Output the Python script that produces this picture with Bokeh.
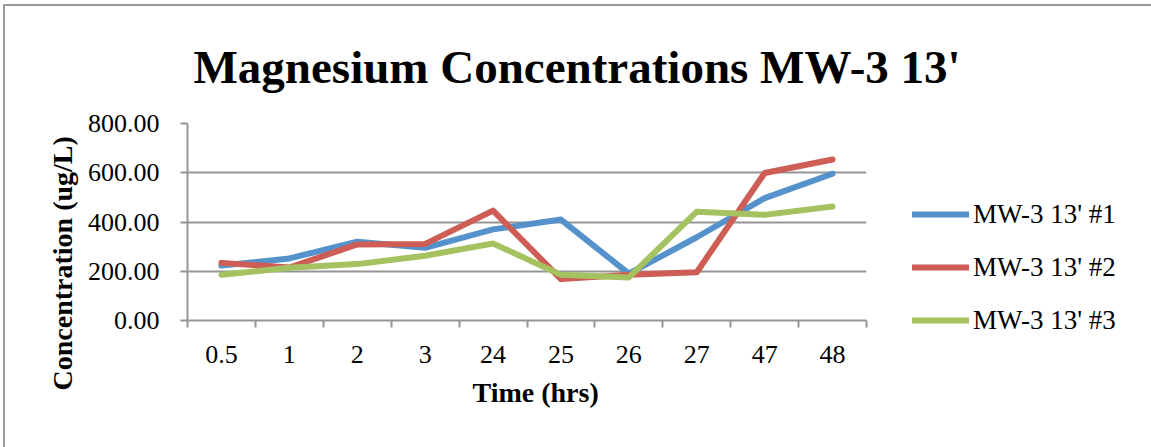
from bokeh.plotting import figure
from bokeh.models import (Range1d, FixedTicker, Legend, LegendItem, Title,
                          InlineStyleSheet)
from bokeh.embed import file_html
from bokeh.resources import INLINE

# Sampling times (hrs) and magnesium concentrations (ug/L)
times = ["0.5", "1", "2", "3", "24", "25", "26", "27", "47", "48"]
well_1 = [223, 252, 320, 295, 370, 410, 190, 338, 497, 596]
well_2 = [234, 215, 309, 311, 446, 168, 186, 196, 599, 654]
well_3 = [186, 214, 229, 263, 313, 186, 175, 442, 429, 463]
series_names = ["MW-3 13' #1", "MW-3 13' #2", "MW-3 13' #3"]
series_colors = ["#5592CB", "#CD5D55", "#A4C260"]
y_ticks = [0, 200, 400, 600, 800]

FONT = "Liberation Serif"
GRAY = "#959595"

# categories sit at the centre of equal slots along the x axis
x_pos = [i + 0.5 for i in range(len(times))]

p = figure(width=1151, height=447, frame_width=679, frame_height=197,
           x_range=Range1d(0, len(times)), y_range=Range1d(0, 800),
           output_backend="svg", toolbar_location=None,
           min_border_left=187, min_border_right=285,
           min_border_top=123, min_border_bottom=127)
p.outline_line_color = None
p.background_fill_color = "white"
p.border_fill_color = "white"

# thin chart-area border on the top and left edges
p.stylesheets = [InlineStyleSheet(css="""
:host { position: relative; }
:host::after {
  content: ""; position: absolute; left: 3px; top: 4px; right: 0; bottom: 0;
  border-left: 2px solid #9a9a9a; border-top: 2px solid #9a9a9a;
  pointer-events: none;
}
""")]

# chart title
p.title.text = "Magnesium Concentrations MW-3 13'"
p.title.text_font = FONT
p.title.text_font_size = "47px"
p.title.text_font_style = "bold"
p.title.text_color = "black"
p.title.align = "left"
p.title.offset = 6
p.title.standoff = 61

# x axis: labels at slot centres, tick marks on slot boundaries
p.xaxis.ticker = FixedTicker(ticks=x_pos, minor_ticks=list(range(len(times) + 1)))
p.xaxis.major_label_overrides = {x: t for x, t in zip(x_pos, times)}
p.xaxis.major_tick_line_color = None
p.xaxis.minor_tick_out = 7
p.xaxis.minor_tick_in = 0
p.xaxis.minor_tick_line_color = GRAY
p.xaxis.minor_tick_line_width = 2
p.xaxis.axis_line_color = GRAY
p.xaxis.axis_line_width = 2
p.xaxis.major_label_text_font = FONT
p.xaxis.major_label_text_font_size = "26px"
p.xaxis.major_label_text_color = "black"
p.xaxis.major_label_standoff = 18

# y axis
p.yaxis.ticker = FixedTicker(ticks=y_ticks, minor_ticks=[])
p.yaxis.major_label_overrides = {v: f"{v:.2f}" for v in y_ticks}
p.yaxis.major_tick_out = 7
p.yaxis.major_tick_in = 0
p.yaxis.major_tick_line_color = GRAY
p.yaxis.major_tick_line_width = 2
p.yaxis.axis_line_color = GRAY
p.yaxis.axis_line_width = 2
p.yaxis.major_label_text_font = FONT
p.yaxis.major_label_text_font_size = "26px"
p.yaxis.major_label_text_color = "black"
p.yaxis.major_label_standoff = 21

p.xgrid.grid_line_color = None
p.ygrid.ticker = FixedTicker(ticks=y_ticks[1:])
p.ygrid.grid_line_color = GRAY
p.ygrid.grid_line_width = 2

# axis titles
p.add_layout(Title(text="Concentration (ug/L)", text_font=FONT,
                   text_font_size="28px", text_font_style="bold",
                   text_color="black", align="left", offset=-70,
                   standoff=13), "left")
p.add_layout(Title(text="Time (hrs)", text_font=FONT,
                   text_font_size="28px", text_font_style="bold",
                   text_color="black", align="left", offset=285,
                   standoff=19), "below")

renderers = []
for vals, color in zip([well_1, well_2, well_3], series_colors):
    r = p.line(x_pos, vals, line_color=color, line_width=6,
               line_cap="round", line_join="round")
    renderers.append(r)

legend = Legend(items=[LegendItem(label=n, renderers=[r])
                       for n, r in zip(series_names, renderers)],
                location=(46, -20), orientation="vertical", ncols=1,
                glyph_width=57, glyph_height=40, label_height=40,
                spacing=13, label_standoff=4, padding=0, margin=0,
                border_line_color=None, background_fill_alpha=0,
                label_text_font=FONT, label_text_font_size="27px",
                label_text_color="black")
p.add_layout(legend, "right")

open("out.html", "w").write(file_html(p, INLINE))
